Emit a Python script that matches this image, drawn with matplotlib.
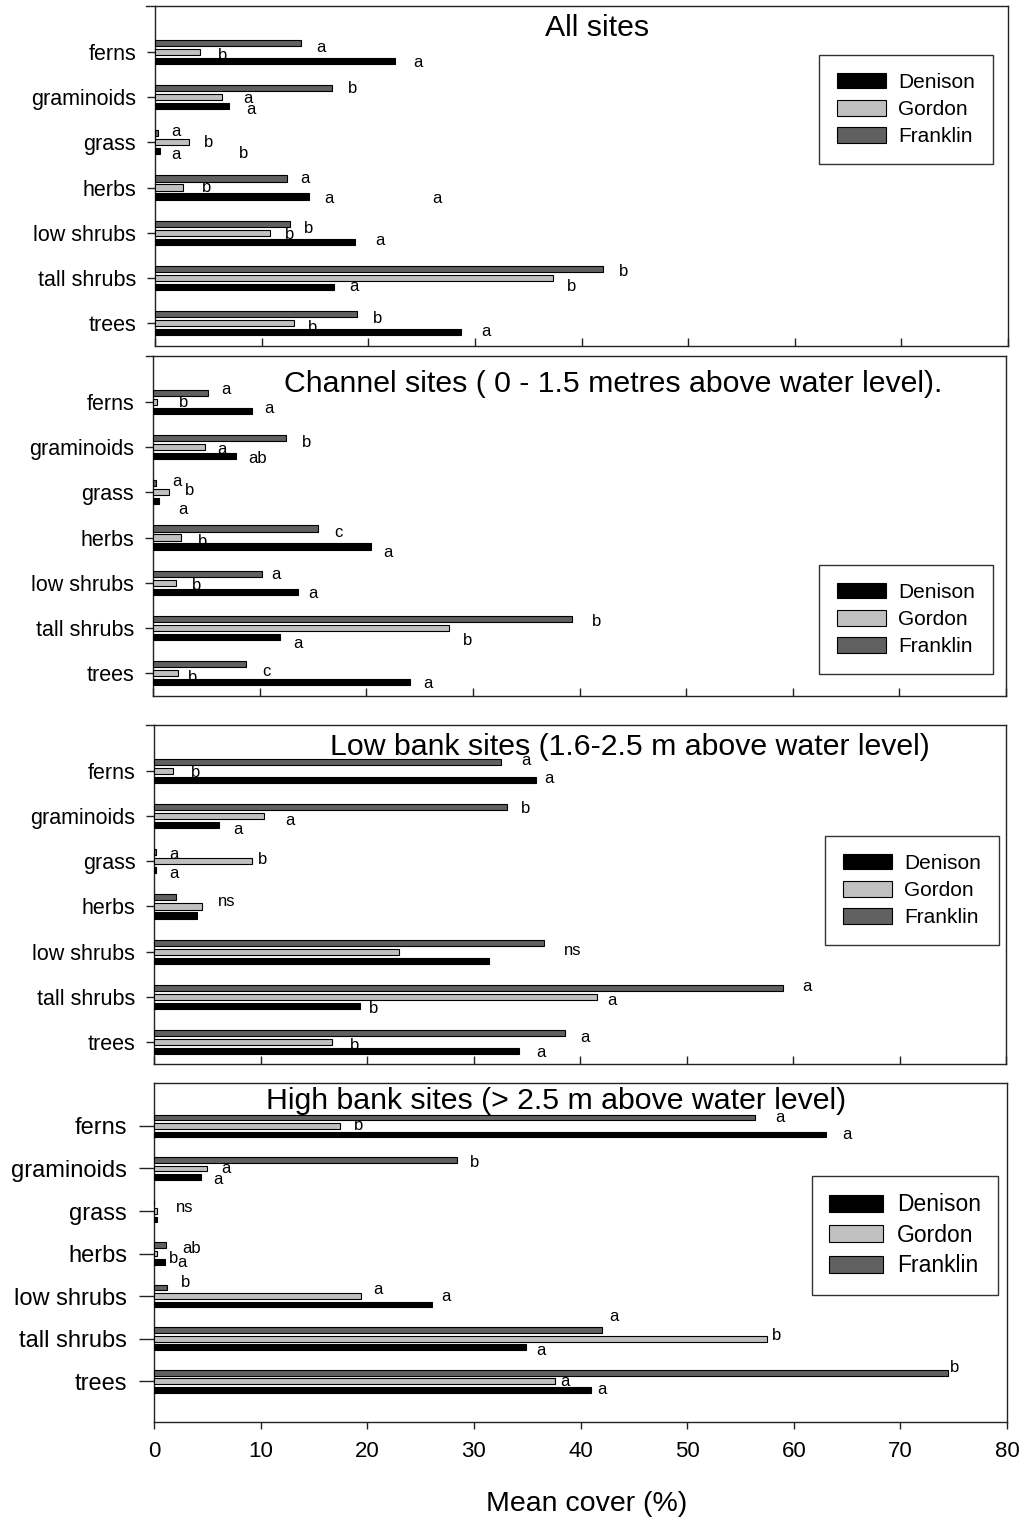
import matplotlib
matplotlib.use("Agg")
import matplotlib.pyplot as plt
from matplotlib.lines import Line2D
import numpy as np

plt.rcParams['font.family'] = ['Liberation Sans', 'DejaVu Sans']

categories = ['ferns', 'graminoids', 'grass', 'herbs', 'low shrubs', 'tall shrubs', 'trees']
series_names = ['Denison', 'Gordon', 'Franklin']
series_colors = ['#000000', '#c0c0c0', '#606060']

titles = ['All sites',
          'Channel sites ( 0 - 1.5 metres above water level).',
          'Low bank sites (1.6-2.5 m above water level)',
          'High bank sites (> 2.5 m above water level)']

# All sites
denison_all = [22.5, 6.9, 0.5, 14.4, 18.8, 16.8, 28.7]
gordon_all = [4.2, 6.3, 3.2, 2.6, 10.8, 37.3, 13.0]
franklin_all = [13.7, 16.6, 0.3, 12.4, 12.7, 42.0, 18.9]
# Channel sites
denison_ch = [9.3, 7.8, 0.6, 20.4, 13.6, 11.9, 24.1]
gordon_ch = [0.4, 4.9, 1.5, 2.6, 2.2, 27.8, 2.3]
franklin_ch = [5.2, 12.5, 0.3, 15.5, 10.2, 39.3, 8.7]
# Low bank sites
denison_lo = [35.9, 6.1, 0.2, 4.0, 31.5, 19.3, 34.3]
gordon_lo = [1.8, 10.3, 9.2, 4.5, 23.0, 41.6, 16.7]
franklin_lo = [32.6, 33.1, 0.2, 2.1, 36.6, 59.1, 38.6]
# High bank sites
denison_hi = [63.0, 4.4, 0.3, 1.0, 26.1, 34.9, 41.0]
gordon_hi = [17.4, 5.0, 0.3, 0.3, 19.4, 57.5, 37.6]
franklin_hi = [56.4, 28.4, 0.0, 1.1, 1.2, 42.0, 74.5]

# significance letters (text, x in % cover, y in category units)
notes_all = [('a', 15.6, -0.11), ('b', 6.3, 0.07), ('a', 24.7, 0.24),
             ('b', 18.5, 0.80), ('a', 8.7, 1.02), ('a', 9.0, 1.28),
             ('a', 2.0, 1.75), ('b', 5.0, 2.01), ('a', 2.0, 2.26), ('b', 8.3, 2.24),
             ('a', 14.1, 2.81), ('b', 4.8, 3.01), ('a', 16.3, 3.25), ('a', 26.4, 3.25),
             ('b', 14.4, 3.90), ('b', 12.6, 4.05), ('a', 21.1, 4.18),
             ('b', 43.9, 4.87), ('b', 39.1, 5.20), ('a', 18.7, 5.20),
             ('b', 20.9, 5.91), ('b', 14.8, 6.09), ('a', 31.0, 6.18)]
notes_ch = [('a', 6.8, -0.27), ('b', 2.9, 0.02), ('a', 10.9, 0.15),
            ('b', 14.4, 0.89), ('a', 6.5, 1.04), ('ab', 9.8, 1.26),
            ('a', 2.2, 1.77), ('b', 3.4, 1.95), ('a', 2.8, 2.37),
            ('c', 17.4, 2.88), ('b', 4.6, 3.08), ('a', 22.0, 3.34),
            ('a', 11.5, 3.83), ('b', 4.1, 4.07), ('a', 15.0, 4.25),
            ('b', 41.6, 4.87), ('b', 29.5, 5.27), ('a', 13.6, 5.34),
            ('c', 10.6, 5.96), ('b', 3.7, 6.09), ('a', 25.8, 6.24)]
notes_lo = [('a', 34.9, -0.24), ('b', 3.9, 0.04), ('a', 37.1, 0.16),
            ('b', 34.9, 0.84), ('a', 12.8, 1.10), ('a', 7.9, 1.30),
            ('a', 1.9, 1.84), ('b', 10.2, 1.95), ('a', 1.9, 2.26),
            ('ns', 6.8, 2.90),
            ('ns', 39.3, 3.98),
            ('a', 61.3, 4.78), ('a', 43.0, 5.09), ('b', 20.6, 5.27),
            ('a', 40.5, 5.91), ('b', 18.8, 6.07), ('a', 36.3, 6.23)]
notes_hi = [('a', 58.7, -0.19), ('b', 19.2, 0.0), ('a', 65.0, 0.19),
            ('b', 30.1, 0.85), ('a', 6.7, 1.01), ('a', 6.0, 1.27),
            ('ns', 2.9, 1.91),
            ('ab', 3.5, 2.87), ('b', 1.8, 3.11), ('a', 2.6, 3.22),
            ('b', 3.0, 3.69), ('a', 21.0, 3.84), ('a', 27.4, 4.02),
            ('a', 43.1, 4.49), ('b', 58.4, 4.92), ('a', 36.3, 5.27),
            ('b', 75.1, 5.69), ('a', 38.5, 6.0), ('a', 42.0, 6.19)]

xticks = [0, 10, 20, 30, 40, 50, 60, 70, 80]
xlabel = 'Mean cover (%)'

W, H = 1036, 1522
fig = plt.figure(figsize=(W / 100, H / 100), dpi=100)

panels = [
    dict(box=(155, 1008, 6, 346), ylim=(6.51, -1.02), data=(denison_all, gordon_all, franklin_all),
         notes=notes_all, title_xy=(0.518, 0.912), leg=(819, 55), last=False),
    dict(box=(153, 1006, 356, 696), ylim=(6.51, -1.02), data=(denison_ch, gordon_ch, franklin_ch),
         notes=notes_ch, title_xy=(0.540, 0.894), leg=(819, 565), last=False),
    dict(box=(154, 1006, 725, 1064), ylim=(6.49, -1.02), data=(denison_lo, gordon_lo, franklin_lo),
         notes=notes_lo, title_xy=(0.559, 0.9115), leg=(825, 836), last=False),
    dict(box=(154, 1007, 1083, 1422), ylim=(6.96, -1.01), data=(denison_hi, gordon_hi, franklin_hi),
         notes=notes_hi, title_xy=(0.471, 0.923), leg=(812, 1176), last=True),
]

offsets = [0.2, 0.0, -0.2]   # Denison lowest, Franklin highest
bar_h = 0.135
y = np.arange(len(categories))

for i, p in enumerate(panels):
    l, r, t, b = p['box']
    ax = fig.add_axes([l / W, 1 - b / H, (r - l) / W, (b - t) / H])
    bars = []
    for vals, off, col in zip(p['data'], offsets, series_colors):
        bc = ax.barh(y + off, vals, height=bar_h, color=col, edgecolor='black',
                     linewidth=0.8, zorder=3)
        bars.append(bc)
    for txt, nx, ny in p['notes']:
        ax.text(nx, ny, txt, fontsize=12, ha='center', va='center', zorder=2)
    ax.set_xlim(0, 80)
    ax.set_ylim(*p['ylim'])
    ax.set_yticks(y)
    ax.set_xticks(xticks)
    for s in ax.spines.values():
        s.set_color('#222222')
        s.set_linewidth(1.0)
    ax.text(p['title_xy'][0], p['title_xy'][1], titles[i], transform=ax.transAxes,
            fontsize=21.8, ha='center', va='baseline', zorder=1)
    if p['last']:
        ax.set_yticklabels(categories, fontsize=17)
        ax.tick_params(axis='y', direction='out', length=10.8, width=1.0, pad=8.5, color='#222222')
        ax.tick_params(axis='x', direction='out', length=5, width=1.0, pad=9, labelsize=16, color='#222222')
        ax.set_xticklabels([str(v) for v in xticks])
        ax.set_xlabel(xlabel, fontsize=20.5, va='center')
        ax.xaxis.set_label_coords((587 - l) / (r - l), (b - 1504) / (b - t))
        leg_fs, leg_ls, leg_bp, leg_hh = 16.5, 0.33, 0.75, 0.78
    else:
        ax.set_yticklabels(categories, fontsize=15.5)
        ax.tick_params(axis='y', direction='out', length=6, width=1.0, pad=7.5, color='#222222')
        ax.tick_params(axis='x', direction='in', length=5.5, width=1.0, labelbottom=False, color='#222222')
        leg_fs, leg_ls, leg_bp, leg_hh = 15, 0.39, 0.85, 0.78
        # frame top line extends a little to the left of the axis
        fig.add_artist(Line2D([146 / W, l / W], [1 - t / H, 1 - t / H], color='#222222', lw=1.0))
    lx, ly = p['leg']
    leg = ax.legend(bars, series_names, loc='upper left',
                    bbox_to_anchor=(lx / W, 1 - ly / H), bbox_transform=fig.transFigure,
                    fontsize=leg_fs, frameon=True, fancybox=False, edgecolor='black',
                    handlelength=2.35, handleheight=leg_hh, labelspacing=leg_ls,
                    borderpad=leg_bp, handletextpad=0.6, borderaxespad=0)
    leg.get_frame().set_linewidth(1.0)
    leg.set_zorder(5)

fig.savefig('out.png', dpi=100, facecolor='white')
